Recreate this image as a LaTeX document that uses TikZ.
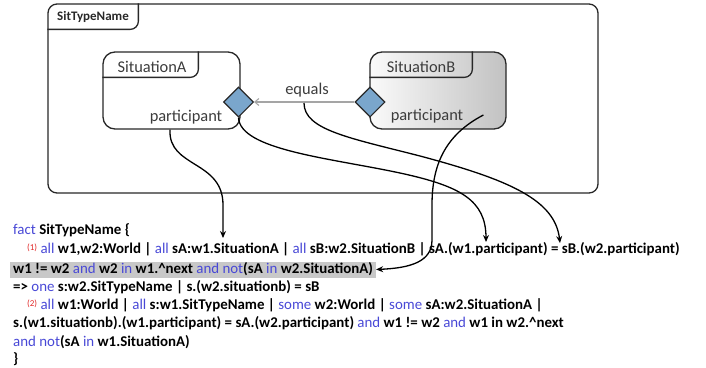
\documentclass[tikz,border=0pt]{standalone}
\usepackage{fontspec}
\setmainfont{Carlito}
\usetikzlibrary{shapes.geometric,arrows.meta}
\definecolor{kwblue}{RGB}{72,72,214}
\definecolor{numred}{RGB}{224,40,40}
\definecolor{hlgray}{RGB}{200,200,200}
\definecolor{diafill}{RGB}{122,166,204}
\definecolor{edgedark}{RGB}{40,40,40}
\definecolor{labelgray}{RGB}{60,60,60}
\definecolor{eqgray}{RGB}{165,165,165}
% keyword and constraint-number markup for the Alloy fact
\newcommand{\kw}[1]{{\mdseries\color{kwblue}#1}}
\newcommand{\cnum}[1]{{\mdseries\color{numred}\fontsize{9}{9}\selectfont\raisebox{3pt}{#1}}}
\begin{document}
\begin{tikzpicture}[x=1pt,y=-1pt,
  frame/.style={draw=edgedark,line width=1.3pt,rounded corners=9pt,inner sep=0},
  tabline/.style={draw=edgedark,line width=1.3pt,rounded corners=8pt},
  sitbox/.style={draw=edgedark,line width=1.3pt,rounded corners=12pt,inner sep=0},
  port/.style={diamond,draw=edgedark,line width=1.1pt,fill=diafill,
    minimum width=30pt,minimum height=30pt,inner sep=0},
  boxtext/.style={text=labelgray,font=\fontsize{16.4}{17}\selectfont,inner sep=0},
  code/.style={anchor=base west,inner sep=0,font=\fontsize{14.9}{16}\selectfont\bfseries},
  link/.style={line width=1.3pt,-{Stealth[length=7pt,width=6pt]}},
  eqarrow/.style={draw=eqgray,line width=1.1pt,-{Straight Barb[length=4pt,width=7pt]}},
]
\useasboundingbox (0,0) rectangle (706,367);

% enclosing situation type
\node[frame,minimum width=550pt,minimum height=189pt] (sit) at (323,98.5) {};
\draw[tabline] ([yshift=-26pt]sit.north west) -- ++(91,0) -- ++(0,-26);
\node[font=\fontsize{13}{13}\selectfont\bfseries,text=edgedark,inner sep=0] (sitname) at (93,17) {SitTypeName};

% SituationA
\node[sitbox,minimum width=137pt,minimum height=77pt] (sitA) at (171.5,90.5) {};
\draw[tabline] ([yshift=-26pt]sitA.north west) -- ++(96,0) -- ++(0,-26);
\node[boxtext] (nameA) at (152,66.5) {SituationA};
\node[boxtext] (partA) at (186,117) {participant};

% SituationB
\node[sitbox,left color=white!96!gray,right color=gray!48,minimum width=136pt,minimum height=77pt] (sitB) at (438,90.5) {};
\draw[tabline] ([yshift=-26pt]sitB.north west) -- ++(103,0) -- ++(0,-26);
\node[boxtext] (nameB) at (421,66.5) {SituationB};
\node[boxtext] (partB) at (427,116) {participant};

% ports and the equals relation
\node[port] (dA) at (238.5,102) {};
\node[port] (dB) at (370,102) {};
\draw[eqarrow] (dB.west) -- (dA.east);
\node[boxtext] (eq) at (307,90) {equals};

% the fact
\node[code] (l1) at (13,234) {\kw{fact} SitTypeName \{};
\node[code] (l2) at (27,253) {\cnum{(1)} \kw{all} w1,w2:World | \kw{all} sA:w1.SituationA | \kw{all} sB:w2.SituationB | sA.(w1.participant) = sB.(w2.participant)};
\node[code,fill=hlgray,inner xsep=3pt,inner ysep=0pt,text height=11.5pt,text depth=4.5pt] (l3) at (10,273)
  {w1 != w2 \kw{and} w2 \kw{in} w1.\textasciicircum next \kw{and} \kw{not}(sA \kw{in} w2.SituationA)};
\node[code] (l4) at (13,291) {=> \kw{one} s:w2.SitTypeName | s.(w2.situationb) = sB};
\node[code] (l5) at (27,309) {\cnum{(2)} \kw{all} w1:World | \kw{all} s:w1.SitTypeName | \kw{some} w2:World | \kw{some} sA:w2.SituationA |};
\node[code] (l6) at (13,327) {s.(w1.situationb).(w1.participant) = sA.(w2.participant) \kw{and} w1 != w2 \kw{and} w1 in w2.\textasciicircum next};
\node[code] (l7) at (13,346) {\kw{and} \kw{not}(sA \kw{in} w1.SituationA)};
\node[code] (l8) at (13,363) {\}};

% where each diagram element lands in the fact
\coordinate (eqfoot) at (304,103);
\coordinate (tipSA) at (223,238);
\coordinate (tipPA) at (486,242);
\coordinate (tipPB) at (560,243);

\draw[link] (sitA.south -| 170,0) .. controls (168,168) and (223,160) .. (223,205) -- (tipSA);
\draw[link] (dA.south) .. controls (240,150) and (330,158) .. (400,173)
  .. controls (460,186) and (486,200) .. (tipPA);
\draw[link] (eqfoot) .. controls (304,130) and (350,138) .. (420,156)
  .. controls (510,180) and (555,200) .. (tipPB);
\draw[link] ([xshift=20pt,yshift=1pt]partB.east) .. controls (445,135) and (432,165) .. (432,205) -- (432,240)
  .. controls (432,262) and (410,268) .. (l3.east);
\end{tikzpicture}
\end{document}
